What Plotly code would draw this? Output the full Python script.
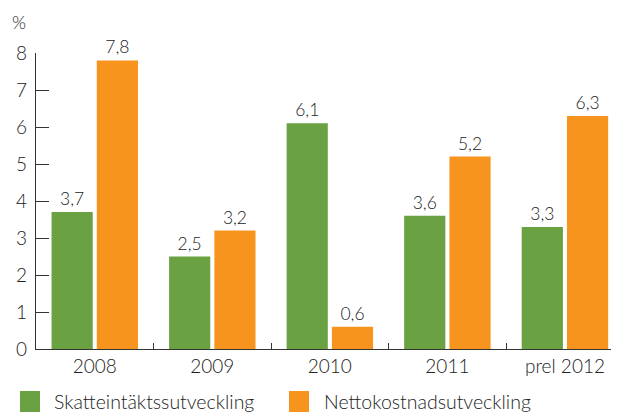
import plotly.graph_objects as go

categories = ["2008", "2009", "2010", "2011", "prel 2012"]
skatt = [3.7, 2.5, 6.1, 3.6, 3.3]
netto = [7.8, 3.2, 0.6, 5.2, 6.3]
series_names = ["Skatteintäktssutveckling", "Nettokostnadsutveckling"]
colors = ["#6aa143", "#f7941e"]
yticks = [0, 1, 2, 3, 4, 5, 6, 7, 8]

FONT = "Lato"
TXT = "#222222"
W = 300

def fmt(v):
    return f"{v:.1f}".replace(".", ",")

fig = go.Figure()
for name, vals, col in zip(series_names, [skatt, netto], colors):
    fig.add_trace(go.Bar(
        x=categories, y=vals, name=name, marker=dict(color=col, line=dict(width=0)),
        text=[fmt(v) for v in vals], textposition="outside", cliponaxis=False,
        textfont=dict(family=FONT, size=17.5, color=TXT, weight=W), showlegend=False,
    ))

fig.update_layout(
    width=611, height=406,
    margin=dict(l=28, r=0, t=45, b=65, autoexpand=False),
    plot_bgcolor="white", paper_bgcolor="white",
    barmode="group", bargap=0.23, bargroupgap=0.09,
    font=dict(family=FONT, size=19, color=TXT, weight=W),
    xaxis=dict(
        range=[-0.5, 4.46], showline=True, linecolor="#333", linewidth=1.3,
        ticks="inside", tickson="boundaries", ticklen=6, tickcolor="#333",
        tickfont=dict(family=FONT, size=19, color=TXT, weight=W), showgrid=False,
        automargin=False,
    ),
    yaxis=dict(
        range=[0, 8], tickvals=yticks, ticktext=[str(t) for t in yticks],
        showline=True, linecolor="#333", linewidth=1.3,
        ticks="inside", ticklen=13, tickcolor="#333", showgrid=False,
        zeroline=False, tickfont=dict(family=FONT, size=19, color=TXT, weight=W),
        ticklabelstandoff=4, automargin=False,
    ),
)

fig.add_annotation(text="%", xref="paper", yref="paper", x=(19 - 36) / 583, y=(349 - 22) / 296,
                   xanchor="center", yanchor="middle", showarrow=False,
                   font=dict(family=FONT, size=18, color=TXT, weight=W))

# custom legend
leg = [(20, 52), (289, 322)]
for (sx, tx), name, col in zip(leg, series_names, colors):
    fig.add_shape(type="rect", xref="paper", yref="paper",
                  x0=(sx - 36) / 583, x1=(sx + 20 - 36) / 583,
                  y0=(349 - 412) / 296, y1=(349 - 391) / 296,
                  fillcolor=col, line=dict(width=0))
    fig.add_annotation(text=name, xref="paper", yref="paper",
                       x=(tx - 36) / 583, y=(349 - 402) / 296,
                       xanchor="left", yanchor="middle", showarrow=False,
                       font=dict(family=FONT, size=19.5, color=TXT, weight=W))

fig.write_html("out.html")
